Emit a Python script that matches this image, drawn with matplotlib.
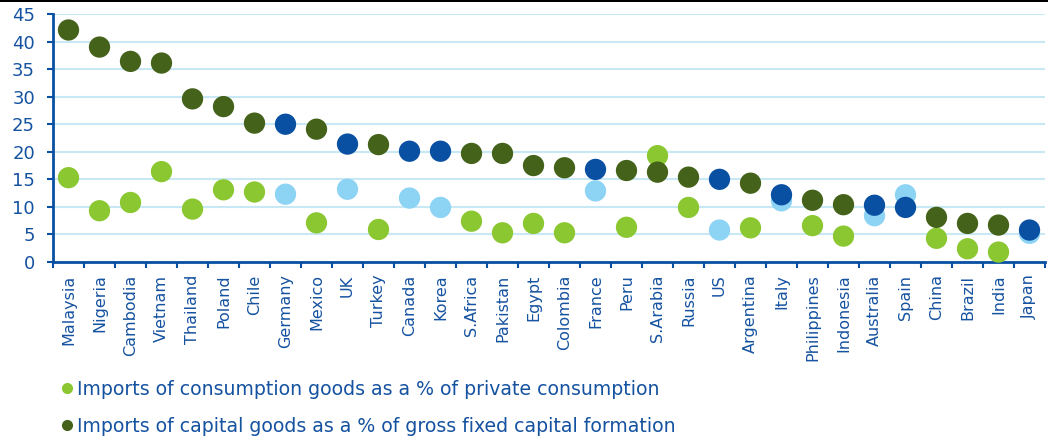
import numpy as np
import matplotlib.pyplot as plt
from matplotlib.lines import Line2D

# Data
countries = ['Malaysia', 'Nigeria', 'Cambodia', 'Vietnam', 'Thailand', 'Poland', 'Chile',
             'Germany', 'Mexico', 'UK', 'Turkey', 'Canada', 'Korea', 'S.Africa', 'Pakistan',
             'Egypt', 'Colombia', 'France', 'Peru', 'S.Arabia', 'Russia', 'US', 'Argentina',
             'Italy', 'Philippines', 'Indonesia', 'Australia', 'Spain', 'China', 'Brazil',
             'India', 'Japan']
consumption = [15.3, 9.3, 10.8, 16.4, 9.6, 13.1, 12.7, 12.3, 7.1, 13.2, 5.9, 11.6, 9.9, 7.4,
               5.3, 7.0, 5.3, 12.9, 6.3, 19.3, 9.9, 5.8, 6.2, 11.1, 6.6, 4.7, 8.4, 12.2,
               4.3, 2.4, 1.8, 5.2]
capital = [42.1, 39.0, 36.4, 36.1, 29.6, 28.2, 25.2, 25.0, 24.1, 21.4, 21.3, 20.1, 20.1, 19.7,
           19.7, 17.5, 17.1, 16.8, 16.6, 16.3, 15.4, 15.0, 14.3, 12.2, 11.2, 10.4, 10.3, 9.9,
           8.1, 7.0, 6.7, 5.8]
developed = ['Germany', 'UK', 'Canada', 'Korea', 'France', 'US', 'Italy', 'Australia',
             'Spain', 'Japan']

DARK_GREEN = '#44621a'
LIGHT_GREEN = '#8ac731'
DARK_BLUE = '#0a50a2'
LIGHT_BLUE = '#8dd3f4'
TEXT = '#1552a0'
GRID = '#c8e8f6'

x = np.arange(len(countries))
is_dev = np.array([c in developed for c in countries])
cons_colors = [LIGHT_BLUE if d else LIGHT_GREEN for d in is_dev]
cap_colors = [DARK_BLUE if d else DARK_GREEN for d in is_dev]

fig = plt.figure(figsize=(10.48, 4.40), dpi=100)
ax = fig.add_axes([53 / 1048, 1 - 262 / 440, 992 / 1048, 248 / 440])

ax.scatter(x, consumption, s=235, c=cons_colors, linewidths=0, zorder=3, clip_on=False)
ax.scatter(x, capital, s=235, c=cap_colors, linewidths=0, zorder=4, clip_on=False)

ax.set_xlim(-0.5, len(countries) - 0.5)
ax.set_ylim(0, 45)
ax.set_yticks(np.arange(0, 46, 5))
ax.yaxis.grid(True, color=GRID, linewidth=1.5, zorder=0)
ax.set_axisbelow(True)

ax.set_xticks(x)
ax.set_xticklabels(countries, rotation=90, color=TEXT, fontsize=11.5)
ax.set_xticks(np.arange(-0.5, len(countries), 1), minor=True)
ax.tick_params(axis='x', which='major', length=0, pad=9)
ax.tick_params(axis='x', which='minor', length=4, width=1.5, color=DARK_BLUE)
ax.tick_params(axis='y', length=4, width=1.5, color=DARK_BLUE, labelcolor=TEXT,
               labelsize=13, pad=9)

for side in ['top', 'right']:
    ax.spines[side].set_visible(False)
for side in ['left', 'bottom']:
    ax.spines[side].set_color(DARK_BLUE)
    ax.spines[side].set_linewidth(2)

handles = [
    Line2D([], [], marker='o', linestyle='none', markersize=7, color=LIGHT_GREEN,
           label='Imports of consumption goods as a % of private consumption'),
    Line2D([], [], marker='o', linestyle='none', markersize=7, color=DARK_GREEN,
           label='Imports of capital goods as a % of gross fixed capital formation'),
]
leg = fig.legend(handles=handles, loc='upper left', bbox_to_anchor=(61 / 1048, 1 - 380 / 440),
                 frameon=False, fontsize=13.6, handlelength=0.6, handletextpad=0.25,
                 labelspacing=0.95, borderaxespad=0, borderpad=0)
for t in leg.get_texts():
    t.set_color(TEXT)

# thin black rule across the top
fig.add_artist(plt.Rectangle((0, 1 - 2 / 440), 1, 2 / 440, transform=fig.transFigure,
                             color='black', linewidth=0))

fig.savefig('out.png', dpi=100)
